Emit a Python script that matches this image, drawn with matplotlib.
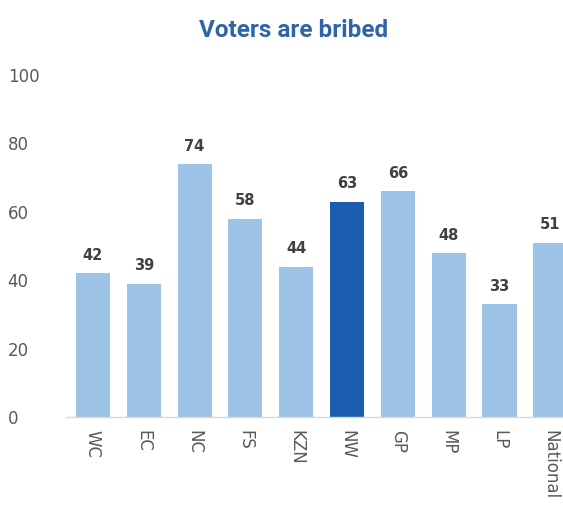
import matplotlib

matplotlib.use("Agg")
import matplotlib.pyplot as plt
import numpy as np

regions = ["WC", "EC", "NC", "FS", "KZN", "NW", "GP", "MP", "LP", "National"]
shares = [42, 39, 74, 58, 44, 63, 66, 48, 33, 51]
highlight = "NW"
yticks = [0, 20, 40, 60, 80, 100]

LIGHT = "#9DC3E6"
DARK = "#1B5DAE"
TEXT = "#595959"

plt.rcParams["font.family"] = ["DejaVu Sans"]


def main() -> None:
    fig = plt.figure(figsize=(5.63, 5.15), dpi=100)
    ax = fig.add_axes([66 / 563, 98 / 515, 497 / 563, 342 / 515])

    x = np.arange(len(regions))
    colors = [DARK if r == highlight else LIGHT for r in regions]
    bars = ax.bar(x, shares, width=0.67, color=colors, zorder=2)

    for bar, v in zip(bars, shares):
        ax.text(bar.get_x() + bar.get_width() / 2, v + 3, str(v),
                ha="center", va="bottom", fontsize=10.5, fontweight="bold",
                color="#404040")

    ax.set_xlim(-0.53, 9.25)
    ax.set_ylim(0, 100)
    ax.set_yticks(yticks)
    ax.set_xticks(x)
    ax.set_xticklabels(regions, rotation=270, fontsize=12, color=TEXT)
    ax.tick_params(axis="y", labelsize=12, labelcolor=TEXT, length=0, pad=42)
    ax.tick_params(axis="x", length=0, pad=9)
    for lbl in ax.get_yticklabels():
        lbl.set_horizontalalignment("left")

    for side in ("top", "right", "left"):
        ax.spines[side].set_visible(False)
    ax.spines["bottom"].set_color("#D9D9D9")
    ax.spines["bottom"].set_linewidth(1.0)

    # title in a narrower face than the axis text
    fig.text(0.521, 0.94, "Voters are bribed", ha="center", va="center",
             fontsize=17.5, fontweight="bold", color="#2E64A8",
             family=["Roboto", "DejaVu Sans"])

    fig.savefig("out.png", dpi=100)
    plt.close(fig)


if __name__ == "__main__":
    main()
